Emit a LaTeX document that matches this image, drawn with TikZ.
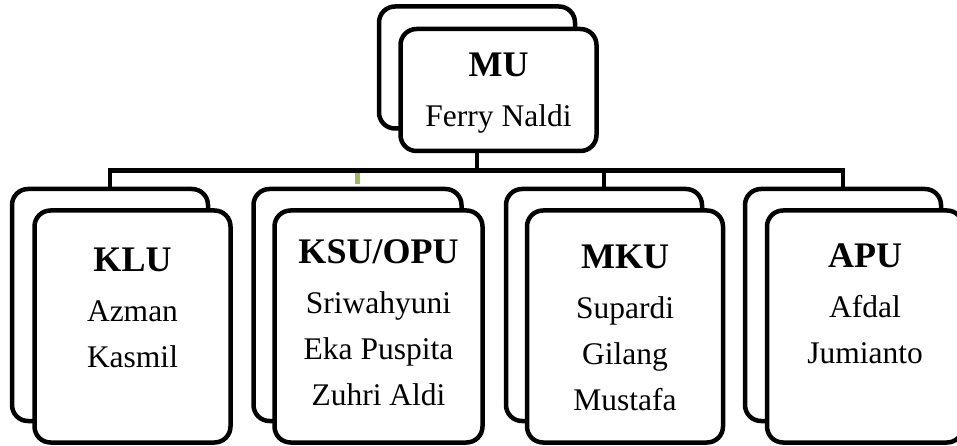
\documentclass[tikz,border=0pt]{standalone}
\usepackage{fontspec}
\setmainfont{Liberation Serif}
\definecolor{linkgreen}{HTML}{9BBB59}
\tikzset{
  unit/.style={draw, line width=4.5pt, rounded corners=16pt, fill=white, inner sep=0pt,
    minimum width=196pt, minimum height=232pt},
  topunit/.style={unit, minimum height=122pt},
  names/.style={anchor=base, align=center, inner sep=0pt, font=\fontsize{31.5}{46}\selectfont},
  link/.style={line width=4.5pt},
}
\newcommand{\head}[1]{{\fontsize{36}{46}\selectfont\bfseries #1}\\[4pt]}
\begin{document}
\begin{tikzpicture}[x=1pt, y=-1pt]
  \useasboundingbox (0,0) rectangle (957,446);
  \clip (0,0) rectangle (957,446);

  % back sheets
  \node[topunit] (MUb) at (477,67.5) {};
  \node[unit] (KLUb) at (110,305) {};
  \node[unit, minimum width=208pt] (KSUb) at (357.5,305) {};
  \node[unit] (MKUb) at (604,305) {};
  \node[unit] (APUb) at (843,305) {};

  % front sheets
  \node[topunit] (MU) at ([shift={(21.5,22.5)}]MUb.center) {};
  \node[unit] (KLU) at ([shift={(22.5,21.5)}]KLUb.center) {};
  \node[unit, minimum width=208pt] (KSU) at ([shift={(21,21.5)}]KSUb.center) {};
  \node[unit] (MKU) at ([shift={(21,21.5)}]MKUb.center) {};
  \node[unit] (APU) at ([shift={(22,21.5)}]APUb.center) {};

  % base = last line
  \node[names] at ([shift={(0,37)}]MU.center) {\head{MU}Ferry Naldi};
  \node[names] at ([shift={(0,40.5)}]KLU.center) {\head{KLU}Azman\\Kasmil};
  \node[names] at ([shift={(0,78.5)}]KSU.center) {\head{KSU/OPU}Sriwahyuni\\Eka Puspita\\Zuhri Aldi};
  \node[names] at ([shift={(0,83.5)}]MKU.center) {\head{MKU}Supardi\\Gilang\\Mustafa};
  \node[names] at ([shift={(0,36.5)}]APU.center) {\head{APU}Afdal\\Jumianto};

  % connectors
  \coordinate (bus) at (477,170.5);
  \draw[link, linkgreen, line width=5pt, shorten <=2.5pt, shorten >=2.5pt] (KSUb.north) -- (KSUb.north |- bus);
  \draw[link] (KLUb.north) |- (bus) -| (APUb.north);
  \draw[link] (MUb.south |- MU.south) -- (MUb.south |- bus);
  \draw[link] (MKUb.north) -- (MKUb.north |- bus);
\end{tikzpicture}
\end{document}
